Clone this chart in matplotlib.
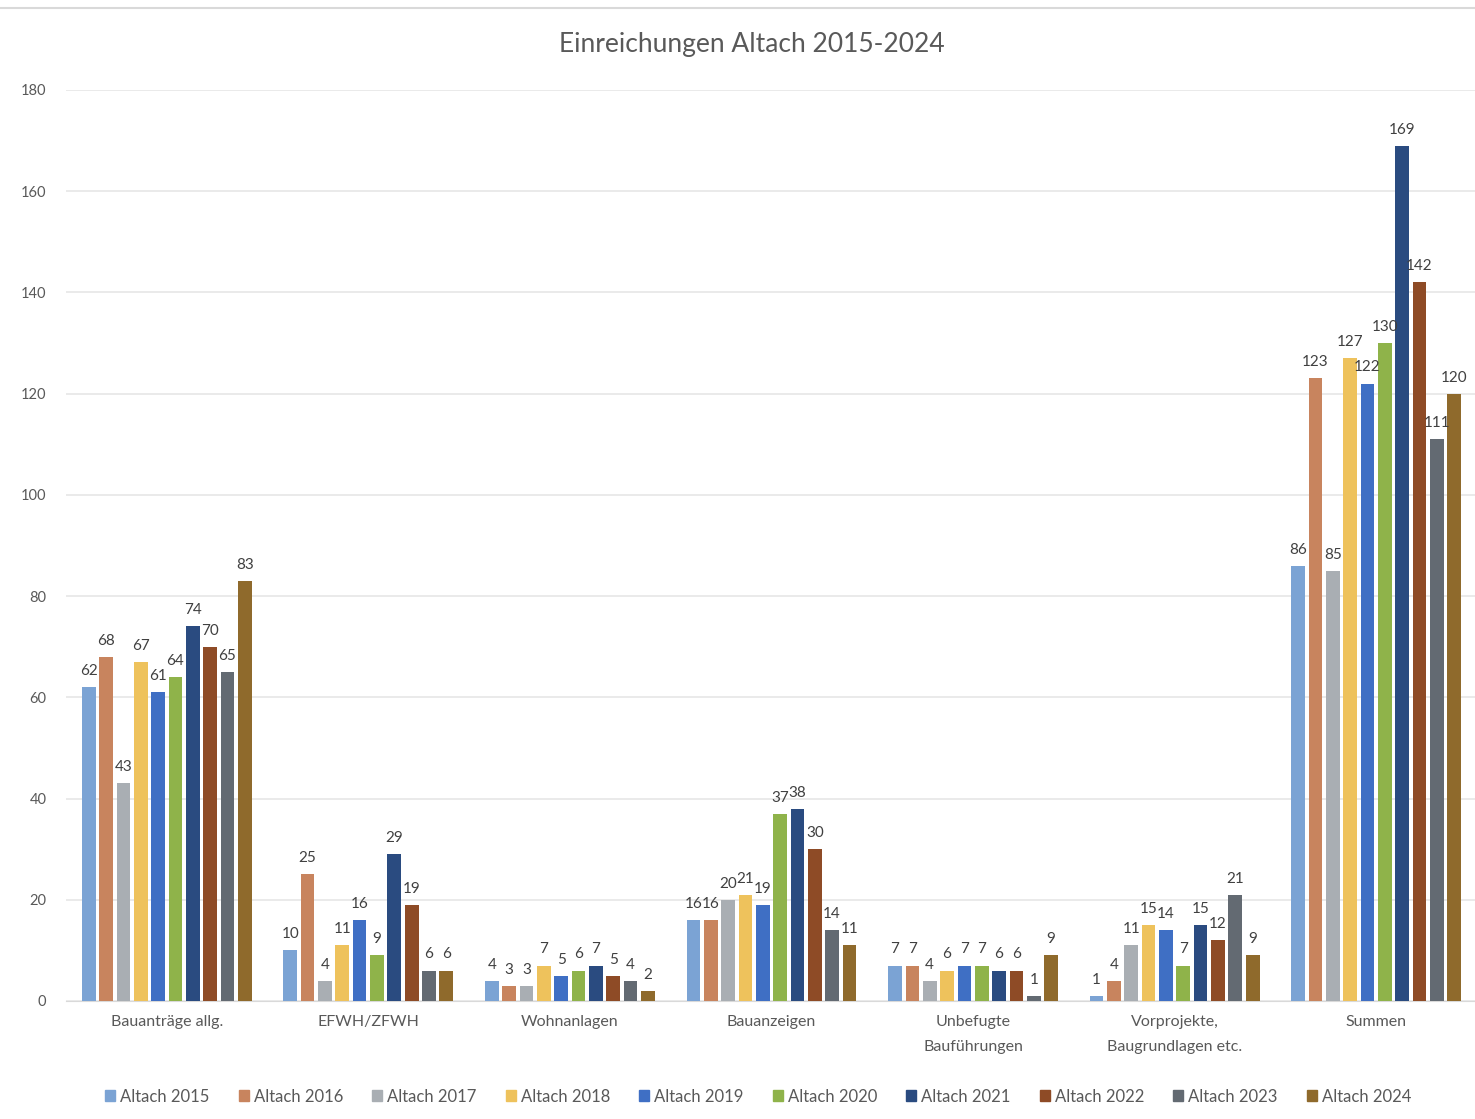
import numpy as np
import matplotlib.pyplot as plt
from matplotlib.lines import Line2D

plt.rcParams['font.family'] = ['Lato', 'DejaVu Sans']

categories = ["Bauanträge allg.", "EFWH/ZFWH", "Wohnanlagen", "Bauanzeigen",
              "Unbefugte\nBauführungen", "Vorprojekte,\nBaugrundlagen etc.", "Summen"]
years = ["Altach 2015", "Altach 2016", "Altach 2017", "Altach 2018", "Altach 2019",
         "Altach 2020", "Altach 2021", "Altach 2022", "Altach 2023", "Altach 2024"]

altach_2015 = [62, 10, 4, 16, 7, 1, 86]
altach_2016 = [68, 25, 3, 16, 7, 4, 123]
altach_2017 = [43, 4, 3, 20, 4, 11, 85]
altach_2018 = [67, 11, 7, 21, 6, 15, 127]
altach_2019 = [61, 16, 5, 19, 7, 14, 122]
altach_2020 = [64, 9, 6, 37, 7, 7, 130]
altach_2021 = [74, 29, 7, 38, 6, 15, 169]
altach_2022 = [70, 19, 5, 30, 6, 12, 142]
altach_2023 = [65, 6, 4, 14, 1, 21, 111]
altach_2024 = [83, 6, 2, 11, 9, 9, 120]

series = [altach_2015, altach_2016, altach_2017, altach_2018, altach_2019,
          altach_2020, altach_2021, altach_2022, altach_2023, altach_2024]

colors = ["#7BA3D4", "#C8845E", "#A9AEB3", "#EEC25C", "#3F6FC4",
          "#8FB34A", "#2A4B80", "#8E4B26", "#636A72", "#8F6A2C"]

fig = plt.figure(figsize=(14.75, 11.19), dpi=100)
ax = fig.add_axes([0.0447, 0.1055, 0.9553, 0.8141])

x = np.arange(len(categories))
slot = 0.086
width = 0.068
for i, vals in enumerate(series):
    pos = x + (i - 4.5) * slot
    ax.bar(pos, vals, width, color=colors[i], label=years[i], zorder=3)
    for p, v in zip(pos, vals):
        ax.text(p, v + 1.8, str(v), ha='center', va='bottom', fontsize=11,
                color='#404040', zorder=4)

ax.set_ylim(0, 180)
ax.set_xlim(-0.5, 6.49)
ax.set_yticks(range(0, 181, 20))
ax.yaxis.grid(True, color='#E6E6E6', linewidth=1.2, zorder=0)
ax.set_axisbelow(True)
for s in ['top', 'right', 'left']:
    ax.spines[s].set_visible(False)
ax.spines['bottom'].set_color('#D9D9D9')
ax.tick_params(axis='both', length=0, colors='#595959', labelsize=10.5)
ax.tick_params(axis='y', pad=14)
ax.set_xticks(x)
ax.set_xticklabels(categories, fontsize=11.5, linespacing=2.0)
ax.tick_params(axis='x', pad=10)

fig.text(0.51, 0.96, "Einreichungen Altach 2015-2024", ha='center', va='center',
         fontsize=19, color='#595959')

# light border line at the top of the chart
fig.add_artist(Line2D([0, 1], [0.9925, 0.9925], color='#D9D9D9', linewidth=1.5))

handles = [plt.Rectangle((0, 0), 1, 1, color=c) for c in colors]
fig.legend(handles, years, loc='center', bbox_to_anchor=(0.514, 0.02), ncol=10,
           frameon=False, fontsize=12, handlelength=0.6, handleheight=0.6,
           handletextpad=0.3, columnspacing=1.75, labelcolor='#595959')

fig.savefig("out.png")
